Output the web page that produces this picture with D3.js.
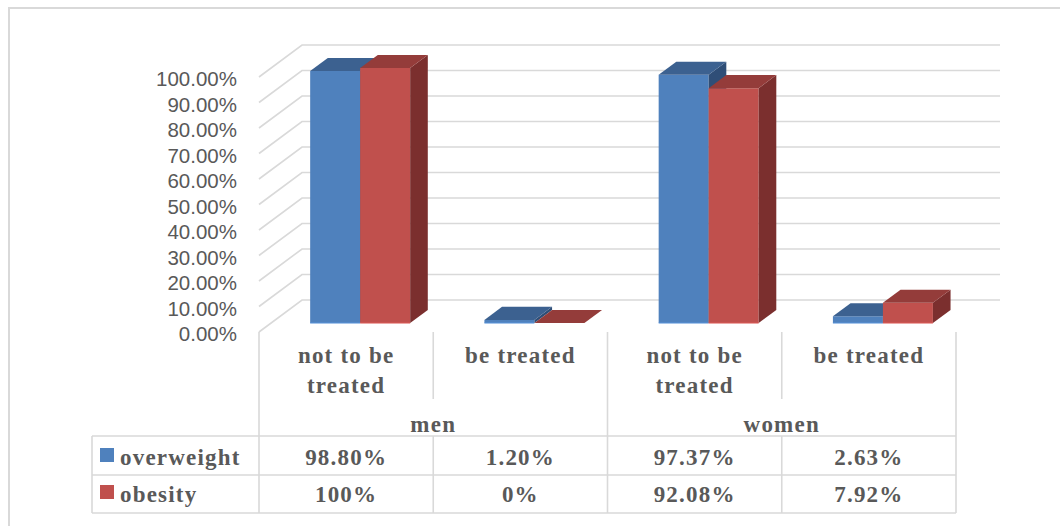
<!DOCTYPE html>
<html>
<head>
<meta charset="utf-8">
<script src="https://cdn.jsdelivr.net/npm/d3@7"></script>
<style>
  body { margin: 0; background: #fff; }
  svg { display: block; }
</style>
</head>
<body>
<svg id="chart" width="1060" height="526"></svg>
<script>
// values
const groups = ["men", "women"];
const categories = ["not to be treated", "be treated", "not to be treated", "be treated"];
const categoryLines = [["not to be", "treated"], ["be treated"], ["not to be", "treated"], ["be treated"]];
const seriesNames = ["overweight", "obesity"];
const overweight = [98.80, 1.20, 97.37, 2.63];
const obesity = [100, 0, 92.08, 7.92];
const overweightLabels = ["98.80%", "1.20%", "97.37%", "2.63%"];
const obesityLabels = ["100%", "0%", "92.08%", "7.92%"];
const yTicks = d3.range(0, 101, 10);

const colors = {
  overweight: { front: "#4F81BD", top: "#3C6190", side: "#2F4E77" },
  obesity: { front: "#C0504D", top: "#943C3A", side: "#7B2F2E" }
};
const grid = "#D9D9D9";
const textCol = "#595959";

const svg = d3.select("#chart");

// outer frame (only top + left fall inside the picture)
svg.append("path")
  .attr("d", "M9,526 L9,8 L1060,8")
  .attr("fill", "none").attr("stroke", grid).attr("stroke-width", 2);

// front plane scales; depth is a shift along (depthX, depthY) * t
const x = d3.scaleBand().domain(d3.range(categories.length)).range([259, 956]);
const y = d3.scaleLinear().domain([0, 100]).range([332, 77]);
const depthX = 43, depthY = -32;
const tFront = 0.28, tBack = 0.69;
const wallRight = 1000;
const barW = 50;

const P = (px, py, t) => [px + depthX * t, py + depthY * t];

// gridlines: diagonal on the side wall + line across the back wall
const g = svg.append("g").attr("stroke", grid).attr("stroke-width", 1.6).attr("fill", "none");
yTicks.forEach(v => {
  const a = P(x.range()[0], y(v), 0), b = P(x.range()[0], y(v), 1);
  g.append("path").attr("d", `M${a}L${b}L${wallRight},${b[1]}`);
});

// axis labels
svg.append("g").selectAll("text").data(yTicks).join("text")
  .attr("x", 237).attr("y", d => y(d) + 9)
  .attr("text-anchor", "end")
  .attr("font-family", "Liberation Sans, Arial, sans-serif")
  .attr("font-size", 20.5).attr("fill", textCol)
  .text(d => d3.format(".2f")(d) + "%");

// 3D bars
const bars = [];
categories.forEach((c, i) => {
  const cx = x(i) + x.bandwidth() / 2 + 2;
  bars.push({ i, s: "overweight", v: overweight[i], x0: cx - barW });
  bars.push({ i, s: "obesity", v: obesity[i], x0: cx });
});

const poly = pts => "M" + pts.map(p => p.join(",")).join("L") + "Z";
const bg = svg.append("g");
bars.forEach(b => {
  const x0 = b.x0, x1 = b.x0 + barW, yb = y(0), yt = y(b.v);
  const c = colors[b.s];
  const fl = P(x0, yt, tFront), fr = P(x1, yt, tFront);
  const bl = P(x0, yt, tBack), br = P(x1, yt, tBack);
  const fbr = P(x1, yb, tFront), bbr = P(x1, yb, tBack), fbl = P(x0, yb, tFront);
  if (b.v > 0) {
    bg.append("path").attr("d", poly([fl, fr, fbr, fbl])).attr("fill", c.front);
    bg.append("path").attr("d", poly([fr, br, bbr, fbr])).attr("fill", c.side);
  }
  bg.append("path").attr("d", poly([fl, bl, br, fr])).attr("fill", c.top);
  if (b.v > 0) {
    bg.append("path").attr("d", `M${fbl}L${fbr}`).attr("stroke", d3.color(c.front).brighter(0.4)).attr("stroke-width", 1);
  }
});

// data table
const t = svg.append("g").attr("stroke", grid).attr("stroke-width", 1.6).attr("fill", "none");
const left = x.range()[0], right = x.range()[1];
const hdrTop = 332, catSepBottom = 399, row0 = 436, row1 = 475, row2 = 513, legendLeft = 92;
[left, x(2), right].forEach(px => t.append("line").attr("x1", px).attr("x2", px).attr("y1", hdrTop).attr("y2", row2));
[x(1), x(3)].forEach(px => {
  t.append("line").attr("x1", px).attr("x2", px).attr("y1", hdrTop).attr("y2", catSepBottom);
  t.append("line").attr("x1", px).attr("x2", px).attr("y1", row0).attr("y2", row2);
});
[row0, row1, row2].forEach(py => t.append("line").attr("x1", legendLeft).attr("x2", right).attr("y1", py).attr("y2", py));
t.append("line").attr("x1", legendLeft).attr("x2", legendLeft).attr("y1", row0).attr("y2", row2);

const txt = sel => sel
  .attr("font-family", "Liberation Serif, Times New Roman, serif")
  .attr("font-weight", "bold").attr("font-size", 23)
  .attr("letter-spacing", 1.2).attr("fill", textCol);

categoryLines.forEach((lines, i) => {
  lines.forEach((l, k) => {
    svg.append("text").call(txt)
      .attr("x", x(i) + x.bandwidth() / 2).attr("y", 363 + k * 30)
      .attr("text-anchor", "middle").text(l);
  });
});
groups.forEach((gname, k) => {
  svg.append("text").call(txt)
    .attr("x", x(k * 2 + 1)).attr("y", 432)
    .attr("text-anchor", "middle").text(gname);
});
[overweightLabels, obesityLabels].forEach((labels, r) => {
  const by = r === 0 ? 465 : 502;
  labels.forEach((l, i) => {
    svg.append("text").call(txt)
      .attr("x", x(i) + x.bandwidth() / 2).attr("y", by)
      .attr("text-anchor", "middle").text(l);
  });
  svg.append("rect").attr("x", 100).attr("y", by - 17).attr("width", 14).attr("height", 14)
    .attr("fill", colors[seriesNames[r]].front);
  svg.append("text").call(txt).attr("x", 120).attr("y", by).text(seriesNames[r]);
});
</script>
</body>
</html>
